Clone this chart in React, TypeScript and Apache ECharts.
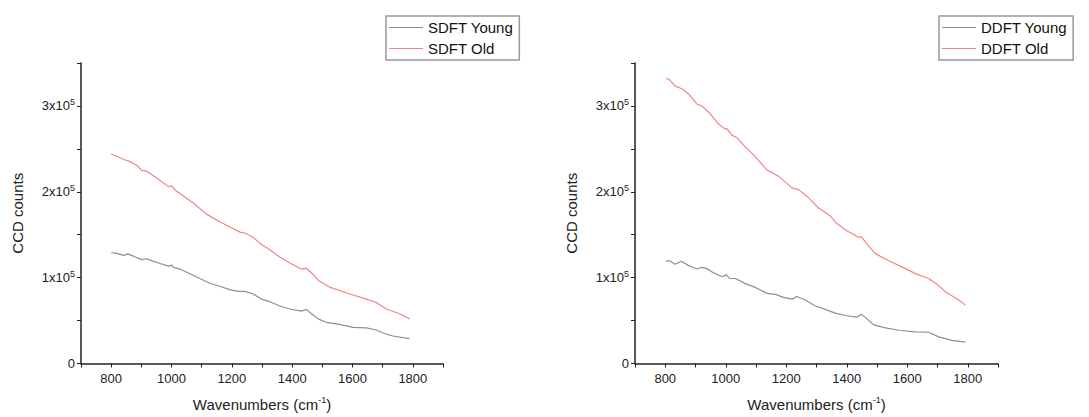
import React, { useEffect, useRef } from "react";
import * as echarts from "echarts";

// [wavenumber (cm^-1), CCD counts]
const sdftYoung: [number, number][] = [
  [800, 129000], [815, 128500], [841, 126000], [855, 127700], [874, 125000], [901, 121000], [918, 122000],
  [940, 119000], [962, 116500], [990, 113500], [1001, 114500], [1006, 112000], [1028, 110000],
  [1061, 104600], [1094, 99000], [1127, 93500], [1160, 90000], [1193, 86000], [1221, 84000],
  [1243, 84000], [1271, 81000], [1298, 75000], [1326, 72000], [1359, 67000], [1392, 63500],
  [1431, 61000], [1447, 63000], [1464, 58000], [1486, 52000], [1513, 48000], [1557, 45500],
  [1602, 42000], [1646, 41500], [1679, 39000], [1706, 35000], [1734, 32000], [1789, 29000],
];
const sdftOld: [number, number][] = [
  [800, 244000], [846, 237000], [857, 236000], [885, 231000], [901, 225000], [918, 224000],
  [951, 216000], [990, 206000], [1001, 207000], [1012, 202000], [1028, 198000], [1072, 187000],
  [1116, 174000], [1160, 165000], [1205, 157000], [1227, 153000], [1243, 152000], [1271, 147000],
  [1298, 138500], [1320, 134000], [1359, 124000], [1392, 117000], [1431, 110000], [1447, 111000],
  [1469, 104000], [1486, 97000], [1524, 89000], [1591, 81000], [1646, 75000], [1679, 71000],
  [1712, 63500], [1756, 58000], [1789, 52000],
];
const ddftYoung: [number, number][] = [
  [802, 119000], [813, 120000], [833, 115500], [853, 119000], [877, 114000], [905, 110000],
  [921, 112000], [938, 110500], [960, 105500], [988, 101000], [1002, 103500], [1012, 99000],
  [1032, 99000], [1065, 93000], [1098, 88600], [1137, 81700], [1164, 80500], [1191, 77000],
  [1219, 75000], [1235, 78000], [1263, 74000], [1296, 67000], [1329, 63000], [1362, 58700],
  [1400, 55600], [1433, 54000], [1448, 57500], [1467, 52000], [1489, 45000], [1528, 41400],
  [1572, 38700], [1627, 36800], [1671, 36400], [1704, 31000], [1748, 27000], [1792, 25000],
];
const ddftOld: [number, number][] = [
  [803, 332000], [813, 331000], [833, 323000], [855, 320000], [877, 314000], [905, 302000],
  [921, 300000], [943, 293000], [976, 279000], [998, 273000], [1004, 273500], [1020, 266000],
  [1037, 263000], [1065, 252000], [1092, 243000], [1136, 225500], [1175, 218000], [1219, 204500],
  [1241, 202500], [1274, 193000], [1307, 181000], [1345, 172000], [1367, 163000], [1400, 154600],
  [1439, 147000], [1448, 147700], [1467, 139000], [1494, 128000], [1538, 120000], [1594, 110500],
  [1627, 104700], [1671, 99000], [1698, 92400], [1726, 83600], [1770, 74000], [1792, 68000],
];

const xTicks = [800, 1000, 1200, 1400, 1600, 1800];
const yTicks = [0, 100000, 200000, 300000];

const FONT = "'Liberation Sans', Arial, sans-serif";
const GREY = "#8f8f8f";
const RED = "#f48383";

function xAxis(gridIndex: number) {
  return {
    type: "value",
    gridIndex,
    min: 700,
    max: 1900,
    interval: 100,
    name: "Wavenumbers (cm{sup|-1})",
    nameLocation: "middle",
    nameGap: 32,
    nameTextStyle: {
      fontFamily: FONT,
      fontSize: 15,
      color: "#222",
      rich: { sup: { fontFamily: FONT, fontSize: 9, color: "#222", padding: [0, 0, 9, 0] } },
    },
    axisLine: { show: true, onZero: false, lineStyle: { color: "#222", width: 1.5 } },
    axisTick: { show: true, length: 4, lineStyle: { color: "#222", width: 1 } },
    axisLabel: {
      fontFamily: FONT,
      fontSize: 13,
      color: "#222",
      margin: 8,
      formatter: (v: number) => (xTicks.includes(v) ? String(v) : ""),
    },
    splitLine: { show: false },
  };
}

function yAxis(gridIndex: number) {
  return {
    type: "value",
    gridIndex,
    min: 0,
    max: 350000,
    interval: 50000,
    name: "CCD counts",
    nameLocation: "middle",
    nameGap: 56,
    nameTextStyle: { fontFamily: FONT, fontSize: 15, color: "#222" },
    axisLine: { show: true, onZero: false, lineStyle: { color: "#222", width: 1.5 } },
    axisTick: { show: true, length: 4, lineStyle: { color: "#222", width: 1 } },
    axisLabel: {
      fontFamily: FONT,
      fontSize: 13,
      color: "#222",
      margin: 6,
      formatter: (v: number) => {
        if (!yTicks.includes(v)) return "";
        if (v === 0) return "0";
        return `${v / 100000}x10{sup|5}`;
      },
      rich: { sup: { fontFamily: FONT, fontSize: 9, color: "#222", padding: [0, 0, 8, 0] } },
    },
    splitLine: { show: false },
  };
}

function lineSeries(name: string, data: [number, number][], color: string, idx: number) {
  return {
    type: "line",
    name,
    data,
    xAxisIndex: idx,
    yAxisIndex: idx,
    symbol: "none",
    showSymbol: false,
    lineStyle: { color, width: 1.2 },
    itemStyle: { color },
    z: 3,
  };
}

function legend(names: string[], left: number) {
  return {
    data: names,
    left,
    top: 16,
    orient: "vertical",
    icon: "rect",
    itemWidth: 34,
    itemHeight: 1.2,
    itemGap: 6,
    padding: [4, 6, 4, 3],
    borderColor: "#999",
    borderWidth: 1.5,
    textStyle: { fontFamily: FONT, fontSize: 15, color: "#111" },
  };
}

export default function App() {
  const ref = useRef<HTMLDivElement>(null);
  useEffect(() => {
    document.body.style.margin = "0";
    const chart = echarts.init(ref.current!, undefined, { renderer: "svg" });
    chart.setOption({
      animation: false,
      backgroundColor: "#fff",
      grid: [
        { left: 81, top: 63, width: 362, height: 303 },
        { left: 635, top: 63, width: 363, height: 304 },
      ],
      legend: [legend(["SDFT Young", "SDFT Old"], 386), legend(["DDFT Young", "DDFT Old"], 939)],
      xAxis: [xAxis(0), xAxis(1)],
      yAxis: [yAxis(0), yAxis(1)],
      series: [
        lineSeries("SDFT Young", sdftYoung, GREY, 0),
        lineSeries("SDFT Old", sdftOld, RED, 0),
        lineSeries("DDFT Young", ddftYoung, GREY, 1),
        lineSeries("DDFT Old", ddftOld, RED, 1),
      ],
    });
    return () => chart.dispose();
  }, []);
  return <div ref={ref} style={{ width: 1089, height: 417 }} />;
}
